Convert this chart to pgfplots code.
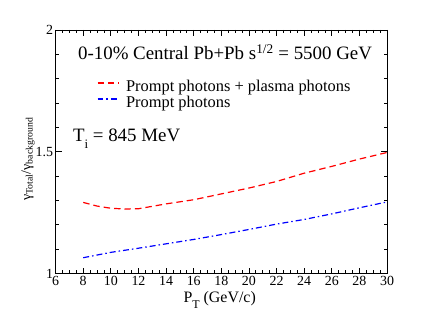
\documentclass[border=0pt]{standalone}
\usepackage{fontspec}
\setmainfont{Liberation Serif}
\usepackage{pgfplots}
\pgfplotsset{compat=1.18}
\usetikzlibrary{calc}

\begin{document}
\begin{tikzpicture}
\begin{axis}[
  name=ax, scale only axis, width=332bp, height=244bp,
  xmin=6, xmax=30, ymin=1, ymax=2,
  xtick={6,8,...,30}, minor x tick num=3,
  ytick={1,1.5,2}, minor ytick={1.1,1.2,1.3,1.4,1.6,1.7,1.8,1.9},
  tick align=inside, major tick length=6bp, minor tick length=3.5bp,
  tick style={black, line width=0.8pt},
  axis line style={line width=0.9pt},
  /pgf/number format/assume math mode=true,
  tick label style={font=\fontsize{14}{15}\selectfont},
  yticklabel style={xshift=1bp},
  xticklabel style={yshift=1bp},
  xlabel={P\raisebox{-0.4em}{\fontsize{12}{12}\selectfont T} (GeV/c)},
  ylabel={γ\textsubscript{Total}/γ\textsubscript{background}},
  xlabel style={font=\fontsize{16}{17}\selectfont, at={(axis description cs:0.495,-0.119)}, anchor=base},
  ylabel style={font=\fontsize{14}{15}\selectfont, at={(axis description cs:-0.083,0.47)}, anchor=center},
  legend style={at={(0.124,0.795)}, anchor=north west, draw=none, fill=none,
    inner sep=0pt, font=\fontsize{16.5}{17}\selectfont, row sep=2bp, column sep=6bp,
    nodes={inner sep=0pt, text height=11bp, text depth=3bp}},
  legend cell align=left,
  legend image code/.code={\draw[#1] (0bp,4bp) -- (22bp,4bp);},
  clip=false]
\addplot[red, line width=1.2pt, dash pattern=on 6.5bp off 4bp] coordinates {
(8,1.292) (9,1.277) (10,1.268) (11,1.265) (12,1.266) (14,1.286) (16,1.303)
(18,1.327) (20,1.351) (22,1.378) (24,1.412) (26,1.440) (28,1.470) (30,1.497)};
\addlegendentry{Prompt photons + plasma photons}
\addplot[blue, line width=1.2pt, dash pattern=on 6bp off 3bp on 1.5bp off 3bp] coordinates {
(8,1.065) (10,1.087) (12,1.104) (14,1.122) (16,1.140) (18,1.160) (20,1.181)
(22,1.203) (24,1.222) (26,1.245) (28,1.270) (30,1.294)};
\addlegendentry{Prompt photons}
\node[anchor=base, font=\fontsize{19}{20}\selectfont] at (axis cs:18.27,1.877)
  {0-10\% Central Pb+Pb s\textsuperscript{1/2} = 5500 GeV};
\node[anchor=base west, inner sep=0pt, font=\fontsize{19}{20}\selectfont] at (axis cs:7.25,1.542)
  {T\raisebox{-0.35em}{\fontsize{13}{13}\selectfont i} = 845 MeV};
\end{axis}
\useasboundingbox ($(ax.south west)+(-55.7bp,-53bp)$) rectangle ($(ax.north east)+(36bp,30bp)$);
\end{tikzpicture}
\end{document}
